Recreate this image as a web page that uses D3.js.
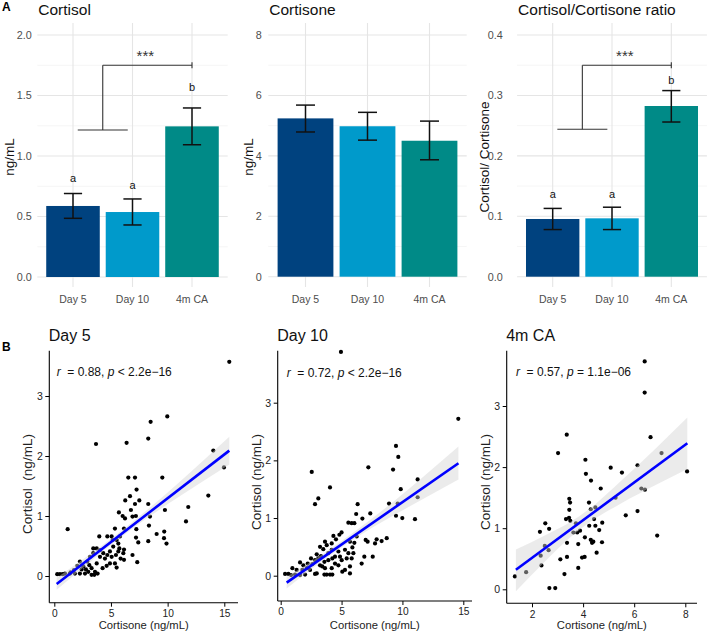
<!DOCTYPE html>
<html><head><meta charset="utf-8">
<script src="https://cdn.jsdelivr.net/npm/d3@7"></script>
<style>
body{margin:0;background:#fff}
svg text{font-family:"Liberation Sans",Arial,Helvetica,sans-serif}
</style>
</head><body>
<svg id="chart" width="708" height="634"></svg>
<script>
// ---------- DATA: panel A ----------
const groups = ["Day 5", "Day 10", "4m CA"];
const groupColors = ["#00427F", "#009ACB", "#008A87"];

const cortisolMean = [0.587, 0.537, 1.245];
const cortisolLow  = [0.485, 0.430, 1.093];
const cortisolHigh = [0.690, 0.645, 1.397];
const cortisolLetters = ["a", "a", "b"];
const cortisolLetterY = [0.785, 0.725, 1.54];
const cortisolBracketY = [1.215, 1.75];

const cortisoneMean = [5.24, 4.98, 4.50];
const cortisoneLow  = [4.79, 4.52, 3.87];
const cortisoneHigh = [5.68, 5.44, 5.15];

const ratioMean = [0.0955, 0.0966, 0.2825];
const ratioLow  = [0.078, 0.078, 0.256];
const ratioHigh = [0.113, 0.115, 0.308];
const ratioLetters = ["a", "a", "b"];
const ratioLetterY = [0.13, 0.13, 0.319];
const ratioBracketY = [0.244, 0.35];

const cortisolTicks = [0, 0.5, 1, 1.5, 2];
const cortisolMinor = [0.25, 0.75, 1.25, 1.75];
const cortisoneTicks = [0, 2, 4, 6, 8];
const cortisoneMinor = [1, 3, 5, 7];
const ratioTicks = [0, 0.1, 0.2, 0.3, 0.4];
const ratioMinor = [0.05, 0.15, 0.25, 0.35];

// ---------- DATA: panel B ----------
const day5X = [15.44,8.5,9.97,8.29,3.68,6.38,14.03,14.97,6.53,7.12,9.53,7.26,13.59,11.82,11.62,9.76,6.26,6.68,7.12,7.5,6.76,5.7,6.03,6.24,6.9,7.2,8.29,8.35,8.44,1.18,7.24,9.03,9.7,9.68,9.9,8.29,7.41,7.21,7.32,6.9,6.15,5.35,4.68,3.97,5.06,5.15,5.5,5.79,5.65,5.74,6.15,6.09,5.2,4.91,4.68,4.32,4.03,4.47,5.06,5.44,5.65,5.85,6.15,5.35,4.91,4.62,5.5,4.26,3.74,3.44,3.74,4.03,3.44,3.15,2.91,2.26,2.03,2.56,3.09,3.29,3.59,3.82,3.0,2.71,2.26,1.82,1.38,0.94,0.5,0.26,0.74,2.41,2.79,1.74,1.44,3.29,3.53];
const day5Y = [3.57,2.57,2.66,2.29,2.2,2.22,2.09,1.81,1.64,1.64,1.64,1.44,1.34,1.15,0.91,1.1,1.26,1.33,1.2,1.26,1.1,1.06,1.0,0.96,0.99,1.0,1.2,0.84,0.99,0.78,0.78,0.7,0.74,0.63,0.54,0.58,0.56,0.64,0.23,0.35,0.79,0.79,0.66,0.66,0.66,0.6,0.6,0.66,0.54,0.46,0.44,0.38,0.49,0.41,0.35,0.38,0.32,0.29,0.32,0.35,0.41,0.29,0.27,0.21,0.21,0.17,0.14,0.13,0.21,0.46,0.46,0.43,0.38,0.32,0.24,0.24,0.17,0.16,0.18,0.13,0.07,0.04,0.07,0.04,0.04,0.04,0.04,0.04,0.03,0.03,0.03,0.11,0.11,0.1,0.06,0.02,0.02];
const day5FitX = [0.21, 15.44];
const day5FitY = [-0.133, 2.09];
const day5BandX  = [0.21, 3, 5.5, 8, 11, 15.44];
const day5BandLo = [-0.23, 0.21, 0.59, 0.94, 1.32, 1.86];
const day5BandHi = [-0.03, 0.34, 0.69, 1.07, 1.56, 2.32];

const day10X = [4.95,14.59,9.47,9.66,9.23,7.2,2.55,4.05,3.09,2.82,11.25,9.86,11.25,9.61,8.9,6.32,7.36,9.47,9.99,11.03,6.2,5.56,5.83,6.05,6.71,6.98,7.14,7.88,8.29,8.71,7.75,6.87,7.56,6.65,6.24,6.05,5.89,5.69,5.28,4.87,4.54,4.82,5.0,4.33,3.64,4.19,3.91,3.5,3.31,2.96,2.82,2.49,2.22,1.86,1.59,1.31,0.96,0.63,0.36,0.85,1.18,1.59,2.0,2.41,2.82,2.96,3.59,3.78,4.05,4.24,3.64,4.19,4.46,4.74,5.06,5.28,5.69,5.69,5.01,5.42,5.83,5.97,5.56,4.74,4.46,4.24,3.91,3.59,3.23,3.42,3.09,2.14,3.23,3.78,4.19,2.6,1.78];
const day10Y = [3.88,2.72,2.25,2.06,1.84,1.88,1.8,1.53,1.34,1.24,1.67,1.5,1.36,1.25,1.25,1.24,1.08,1.04,1.0,0.98,1.07,0.92,0.91,0.91,0.99,0.62,0.59,0.63,0.6,0.65,0.56,0.33,0.33,0.21,0.68,0.57,0.49,0.59,0.45,0.33,0.63,0.71,0.75,0.69,0.59,0.45,0.39,0.46,0.34,0.37,0.27,0.3,0.21,0.18,0.23,0.1,0.13,0.03,0.03,0.01,0.02,0.01,0.02,0.1,0.03,0.04,0.02,0.02,0.02,0.02,0.13,0.13,0.21,0.18,0.07,0.1,0.16,0.04,0.27,0.3,0.3,0.39,0.39,0.42,0.33,0.3,0.27,0.24,0.18,0.16,0.3,0.13,0.5,0.53,0.56,0.2,0.1];
const day10FitX = [0.49, 14.6];
const day10FitY = [-0.12, 1.95];
const day10BandX  = [0.49, 3, 5, 7.5, 10.5, 14.6];
const day10BandLo = [-0.22, 0.19, 0.49, 0.83, 1.19, 1.67];
const day10BandHi = [-0.02, 0.31, 0.60, 0.99, 1.50, 2.24];

const ca4mX = [1.33,1.77,2.68,2.91,2.31,2.52,2.67,2.5,2.65,2.34,2.37,3.02,3.36,3.11,3.27,3.37,3.37,3.33,3.45,3.46,3.46,3.49,3.5,3.62,3.72,3.77,3.88,3.81,3.81,3.96,4.06,4.07,4.09,4.11,4.23,4.24,4.3,4.31,4.3,4.35,4.4,4.43,4.48,4.48,4.63,4.69,4.75,4.74,4.53,5.08,5.27,5.52,5.67,6.13,6.13,6.28,6.42,6.41,6.41,6.64,6.9,7.07,8.07];
const ca4mY = [0.21,0.28,0.02,0.02,0.94,1.08,0.99,0.71,0.64,0.55,0.39,2.23,2.53,0.49,0.25,0.53,0.76,1.15,1.17,1.3,1.48,1.42,1.12,0.93,1.08,0.93,0.96,0.74,0.35,0.52,0.53,0.85,2.12,1.89,1.42,1.04,1.31,1.78,0.81,0.76,0.78,1.15,1.34,1.04,0.97,1.65,1.09,0.77,0.6,1.99,1.5,1.91,1.21,2.03,1.28,1.65,1.63,3.73,3.22,2.49,0.88,2.23,1.93];
const ca4mFitX = [1.37, 8.08];
const ca4mFitY = [0.32, 2.39];
const ca4mBandX  = [1.37, 2.5, 3.5, 4.2, 5.5, 6.8, 8.08];
const ca4mBandLo = [-0.03, 0.45, 0.85, 1.08, 1.41, 1.70, 1.97];
const ca4mBandHi = [0.65, 0.88, 1.10, 1.30, 1.78, 2.29, 2.81];

const scatterXTicks5 = [0, 5, 10, 15];
const scatterXTicksCA = [2, 4, 6, 8];
const scatterYTicks = [0, 1, 2, 3];

// ---------- DRAWING ----------
const svg = d3.select("#chart");

svg.append("text").attr("x", 2).attr("y", 11).attr("font-size", 12).attr("font-weight", "bold").text("A");
svg.append("text").attr("x", 2).attr("y", 351).attr("font-size", 12).attr("font-weight", "bold").text("B");

function barPanel(c) {
  const g = svg.append("g");
  const x = d3.scaleBand().domain(groups).range([c.left, c.right]).paddingInner(0.1).paddingOuter(0.15);
  const y = d3.scaleLinear().domain([0, c.ymax]).range([c.y0, c.y1]);
  const bw = x.bandwidth();
  const cx = d => x(d) + bw / 2;

  g.selectAll(".mn").data(c.minor).join("line")
    .attr("x1", c.left).attr("x2", c.right).attr("y1", d => y(d)).attr("y2", d => y(d))
    .attr("stroke", "#f0f0f0").attr("stroke-width", 0.7);
  g.selectAll(".mj").data(c.ticks).join("line")
    .attr("x1", c.left).attr("x2", c.right).attr("y1", d => y(d)).attr("y2", d => y(d))
    .attr("stroke", "#e5e5e5").attr("stroke-width", 1.1);
  g.selectAll(".vg").data(groups).join("line")
    .attr("x1", cx).attr("x2", cx).attr("y1", c.top).attr("y2", c.bottom)
    .attr("stroke", "#e5e5e5").attr("stroke-width", 1.1);

  g.selectAll(".bar").data(groups).join("rect")
    .attr("x", d => x(d)).attr("width", bw)
    .attr("y", (d, i) => y(c.mean[i])).attr("height", (d, i) => y(0) - y(c.mean[i]))
    .attr("fill", (d, i) => groupColors[i]);

  const cap = bw * 0.17;
  groups.forEach((d, i) => {
    const xc = cx(d);
    g.append("line").attr("x1", xc).attr("x2", xc).attr("y1", y(c.low[i])).attr("y2", y(c.high[i]))
      .attr("stroke", "#111").attr("stroke-width", 1.5);
    [c.low[i], c.high[i]].forEach(v => g.append("line").attr("x1", xc - cap).attr("x2", xc + cap)
      .attr("y1", y(v)).attr("y2", y(v)).attr("stroke", "#111").attr("stroke-width", 1.5));
  });

  if (c.letters) {
    g.selectAll(".let").data(groups).join("text")
      .attr("x", cx).attr("y", (d, i) => y(c.letterY[i]))
      .attr("text-anchor", "middle").attr("font-size", 11).attr("fill", "#111")
      .text((d, i) => c.letters[i]);
  }
  if (c.bracket) {
    const mid = (cx(groups[0]) + cx(groups[1])) / 2;
    const end = cx(groups[2]);
    const yl = y(c.bracket[0]), yh = y(c.bracket[1]);
    const ln = (x1, y1, x2, y2) => g.append("line").attr("x1", x1).attr("y1", y1).attr("x2", x2).attr("y2", y2)
      .attr("stroke", "#333").attr("stroke-width", 1.1);
    ln(mid - 25, yl, mid + 25, yl);
    ln(mid, yl, mid, yh);
    ln(mid, yh, end, yh);
    ln(end, yh - 3, end, yh + 3);
    g.append("text").attr("x", (mid + end) / 2 - 2).attr("y", yh - 4).attr("text-anchor", "middle")
      .attr("font-size", 15).attr("fill", "#333").text("***");
  }

  const ya = g.append("g").attr("transform", `translate(${c.tickRight},0)`)
    .call(d3.axisLeft(y).tickValues(c.ticks).tickSize(0).tickPadding(0).tickFormat(d3.format(c.fmt)));
  ya.select(".domain").remove();
  ya.attr("font-size", 10.8).selectAll("text").attr("fill", "#4d4d4d");

  const xa = g.append("g").attr("transform", `translate(0,${c.bottom + 8.7})`)
    .call(d3.axisBottom(x).tickSize(0).tickPadding(0));
  xa.select(".domain").remove();
  xa.attr("font-size", 10.5).selectAll("text").attr("fill", "#4d4d4d");

  g.append("text").attr("x", c.left + 1).attr("y", 14.5).attr("font-size", 15.5).attr("fill", "#111").text(c.title);
  g.append("text").attr("transform", `translate(${c.ylabX + 4.8},157) rotate(-90)`)
    .attr("text-anchor", "middle").attr("font-size", 13.5).attr("fill", "#111").text(c.ylab);
}

barPanel({left: 37.3, right: 227.7, top: 23, bottom: 287, y0: 277, y1: 35, ymax: 2,
  ticks: cortisolTicks, minor: cortisolMinor, fmt: ".1f", tickRight: 31.7,
  mean: cortisolMean, low: cortisolLow, high: cortisolHigh,
  letters: cortisolLetters, letterY: cortisolLetterY, bracket: cortisolBracketY,
  title: "Cortisol", ylab: "ng/mL", ylabX: 9});
barPanel({left: 268.3, right: 466.7, top: 23, bottom: 287, y0: 276.7, y1: 35, ymax: 8,
  ticks: cortisoneTicks, minor: cortisoneMinor, fmt: "d", tickRight: 261.7,
  mean: cortisoneMean, low: cortisoneLow, high: cortisoneHigh,
  title: "Cortisone", ylab: "ng/mL", ylabX: 248});
barPanel({left: 517.1, right: 706.9, top: 23, bottom: 287, y0: 276.7, y1: 35, ymax: 0.4,
  ticks: ratioTicks, minor: ratioMinor, fmt: ".1f", tickRight: 502.7,
  mean: ratioMean, low: ratioLow, high: ratioHigh,
  letters: ratioLetters, letterY: ratioLetterY, bracket: ratioBracketY,
  title: "Cortisol/Cortisone ratio", ylab: "Cortisol/ Cortisone", ylabX: 484});

function scatterPanel(c) {
  const g = svg.append("g");
  const x = d3.scaleLinear().domain(c.xd).range(c.xr);
  const y = d3.scaleLinear().domain([0, 3]).range(c.yr);

  g.selectAll("circle").data(d3.zip(c.xs, c.ys)).join("circle")
    .attr("cx", d => x(d[0])).attr("cy", d => y(d[1])).attr("r", 2.1).attr("fill", "#000");

  const area = d3.area().x(d => x(d[0])).y0(d => y(d[1])).y1(d => y(d[2])).curve(d3.curveMonotoneX);
  g.append("path").datum(d3.zip(c.bandX, c.bandLo, c.bandHi)).attr("d", area)
    .attr("fill", "#d3d3d3").attr("fill-opacity", 0.45);
  g.append("path").datum(d3.zip(c.fitX, c.fitY))
    .attr("d", d3.line().x(d => x(d[0])).y(d => y(d[1])))
    .attr("fill", "none").attr("stroke", "#0000FF").attr("stroke-width", 2.6);

  const xa = g.append("g").attr("transform", `translate(0,${c.axisY})`)
    .call(d3.axisBottom(x).tickValues(c.xticks).tickSizeInner(4).tickSizeOuter(0).tickPadding(3).tickFormat(d3.format("d")));
  xa.select(".domain").remove();
  xa.attr("font-size", 10.2).selectAll("text").attr("fill", "#222");
  xa.selectAll("line").attr("stroke", "#000");
  const ya = g.append("g").attr("transform", `translate(${c.axisX},0)`)
    .call(d3.axisLeft(y).tickValues(scatterYTicks).tickSizeInner(4).tickSizeOuter(0).tickPadding(2.5).tickFormat(d3.format("d")));
  ya.select(".domain").remove();
  ya.attr("font-size", 10.5).selectAll("text").attr("fill", "#222");
  ya.selectAll("line").attr("stroke", "#000");
  g.append("line").attr("x1", c.axisX).attr("x2", c.axisRight).attr("y1", c.axisY).attr("y2", c.axisY)
    .attr("stroke", "#000").attr("stroke-width", 1.1);
  g.append("line").attr("x1", c.axisX).attr("x2", c.axisX).attr("y1", 350.7).attr("y2", c.axisY)
    .attr("stroke", "#000").attr("stroke-width", 1.1);

  const t = g.append("text").attr("x", x(c.labX)).attr("y", y(c.labY)).attr("font-size", 12)
    .attr("fill", "#111").style("white-space", "pre");
  t.append("tspan").attr("font-style", "italic").text("r");
  t.append("tspan").text("  = " + c.r + ", ");
  t.append("tspan").attr("font-style", "italic").text("p");
  t.append("tspan").text(" " + c.p);

  g.append("text").attr("x", c.axisX - 0.5).attr("y", 341).attr("font-size", 16).attr("fill", "#111").text(c.title);
  g.append("text").attr("x", (c.axisX + c.axisRight) / 2).attr("y", 628.5).attr("text-anchor", "middle")
    .attr("font-size", 11.25).attr("fill", "#222").text("Cortisone (ng/mL)");
  g.append("text").attr("transform", `translate(${c.ylabX + 4.8},${c.ylabY}) rotate(-90)`)
    .attr("text-anchor", "middle").attr("font-size", 13.5).attr("fill", "#222")
    .style("white-space", "pre").text(c.ylab);
}

scatterPanel({xd: [0, 15], xr: [54.3, 224.3], yr: [576, 396], axisX: 49.3, axisY: 602.7, axisRight: 238,
  xticks: scatterXTicks5, xs: day5X, ys: day5Y, fitX: day5FitX, fitY: day5FitY,
  bandX: day5BandX, bandLo: day5BandLo, bandHi: day5BandHi,
  labX: 0.21, labY: 3.33, r: "0.88", p: "< 2.2e\u221216",
  title: "Day 5", ylab: "Cortisol  (ng/mL)", ylabX: 26.7, ylabY: 484});
scatterPanel({xd: [0, 15], xr: [280.7, 463.3], yr: [575.7, 402.7], axisX: 277.7, axisY: 601, axisRight: 472,
  xticks: scatterXTicks5, xs: day10X, ys: day10Y, fitX: day10FitX, fitY: day10FitY,
  bandX: day10BandX, bandLo: day10BandLo, bandHi: day10BandHi,
  labX: 0.49, labY: 3.45, r: "0.72", p: "< 2.2e\u221216",
  title: "Day 10", ylab: "Cortisol (ng/mL)", ylabX: 255.7, ylabY: 482});
scatterPanel({xd: [2, 8], xr: [532, 685.3], yr: [589.3, 406], axisX: 506.7, axisY: 603.3, axisRight: 697,
  xticks: scatterXTicksCA, xs: ca4mX, ys: ca4mY, fitX: ca4mFitX, fitY: ca4mFitY,
  bandX: ca4mBandX, bandLo: ca4mBandLo, bandHi: ca4mBandHi,
  labX: 1.37, labY: 3.49, r: "0.57", p: "= 1.1e\u221206",
  title: "4m CA", ylab: "Cortisol (ng/mL)", ylabX: 485, ylabY: 482});
</script>
</body></html>
